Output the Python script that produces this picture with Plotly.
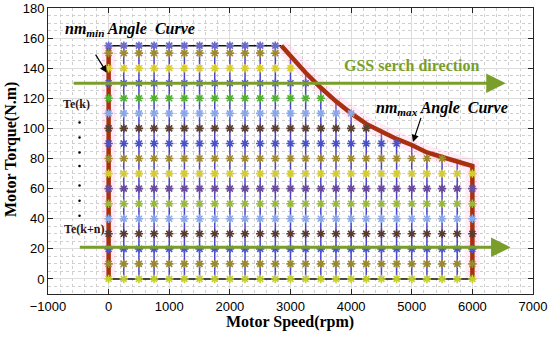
import plotly.graph_objects as go

# ---------------- data ----------------
col_speeds = [0, 250, 500, 750, 1000, 1250, 1500, 1750, 2000, 2250, 2500, 2750,
              3000, 3250, 3500, 3750, 4000, 4250, 4500, 4750, 5000, 5250, 5500, 5750, 6000]
col_tmax = [155, 155, 155, 155, 155, 155, 155, 155, 155, 155, 155, 155,
            148, 137, 127, 118, 110, 103, 98, 93, 89, 84, 81, 78, 75]
row_torques = [0, 10, 20, 30, 40, 50, 60, 70, 80, 90, 100, 110, 120, 130, 140, 150, 155]
row_colors = ["#c4d02c", "#9a8a2c", "#4a58d0", "#5a3a30", "#8aa8e8", "#9ab83a",
              "#6a4a9a", "#d4cc30", "#a08a30", "#4a50c8", "#5a4030", "#8aa8e8",
              "#50b030", "#5a5ad0", "#d8cc30", "#a08a30", "#6a6ad0"]

curve_speeds = [2850, 3000, 3250, 3500, 3750, 4000, 4250, 4500, 4750, 5000, 5250, 5500, 5750, 6000]
curve_torques = [155, 148, 137, 127, 118, 110, 103, 98, 93, 89, 84, 81, 78, 75]

arrow_rows = [130, 21]
arrow_start = [-600, -500]
arrow_end = [6550, 6630]

dots_y = [104, 94, 84, 75, 62, 52, 42]
dots_x = [-480] * len(dots_y)

fig = go.Figure()

# vertical blue column lines
vx, vy = [], []
for s, t in zip(col_speeds, col_tmax):
    vx += [s, s, None]
    vy += [0, t, None]
fig.add_trace(go.Scatter(x=vx, y=vy, mode="lines",
                         line=dict(color="#4a44cc", width=1.5), hoverinfo="skip"))

# pink glow around boundary
bx = [0, 0, None] + curve_speeds + [6000]
by = [0, 155, None] + curve_torques + [0]
fig.add_trace(go.Scatter(x=bx, y=by, mode="lines",
                         line=dict(color="rgba(255,170,215,0.22)", width=14), hoverinfo="skip"))

# black top & bottom lines
fig.add_trace(go.Scatter(x=[0, curve_speeds[0], None, 0, 6000],
                         y=[155, 155, None, 0, 0], mode="lines",
                         line=dict(color="#111111", width=1.5), hoverinfo="skip"))

# red boundary
fig.add_trace(go.Scatter(x=bx, y=by, mode="lines",
                         line=dict(color="#a8300e", width=4.5), hoverinfo="skip"))

# star markers per row
for t, c in zip(row_torques, row_colors):
    xs = [s for s, m in zip(col_speeds, col_tmax) if m >= t]
    fig.add_trace(go.Scatter(x=xs, y=[t] * len(xs), mode="markers",
                             marker=dict(symbol="asterisk-open", size=7, color=c,
                                         line=dict(color=c, width=1.6)),
                             hoverinfo="skip"))

# dots
fig.add_trace(go.Scatter(x=dots_x, y=dots_y, mode="markers",
                         marker=dict(color="black", size=2.5), hoverinfo="skip"))

annotations = []
# green arrows
for yv, xs, xe in zip(arrow_rows, arrow_start, arrow_end):
    annotations.append(dict(x=xe, y=yv, ax=xs, ay=yv, xref="x", yref="y",
                            axref="x", ayref="y", text="", showarrow=True,
                            arrowhead=2, arrowsize=1.3, arrowwidth=3,
                            arrowcolor="#7a9e2a"))
# black pointer arrows
annotations.append(dict(x=-30, y=137, ax=-230, ay=150, xref="x", yref="y",
                        axref="x", ayref="y", text="", showarrow=True,
                        arrowhead=2, arrowsize=1.2, arrowwidth=1.2, arrowcolor="black"))
annotations.append(dict(x=5020, y=91, ax=5160, ay=108, xref="x", yref="y",
                        axref="x", ayref="y", text="", showarrow=True,
                        arrowhead=2, arrowsize=1.2, arrowwidth=1.2, arrowcolor="black"))

serif = "Liberation Serif"
annotations += [
    dict(x=-760, y=166, xref="x", yref="y", xanchor="left", yanchor="middle",
         text="<b><i>nm<sub>min</sub> Angle  Curve</i></b>", showarrow=False,
         font=dict(family=serif, size=16, color="black")),
    dict(x=4380, y=113, xref="x", yref="y", xanchor="left", yanchor="middle",
         text="<b><i>nm<sub>max</sub> Angle  Curve</i></b>", showarrow=False,
         font=dict(family=serif, size=16, color="black")),
    dict(x=5010, y=142, xref="x", yref="y", xanchor="center", yanchor="middle",
         text="<b>GSS serch direction</b>", showarrow=False,
         font=dict(family=serif, size=16, color="#7a9e2a")),
    dict(x=-530, y=116, xref="x", yref="y", xanchor="center", yanchor="middle",
         text="<b>Te(k)</b>", showarrow=False,
         font=dict(family=serif, size=12, color="#2a1414")),
    dict(x=-410, y=33, xref="x", yref="y", xanchor="center", yanchor="middle",
         text="<b>Te(k+n)</b>", showarrow=False,
         font=dict(family=serif, size=12, color="#2a1414")),
]
W, H = 550, 337
ML, MR, MT, MB = 48, 17, 8, 43
plot_w, plot_h = W - ML - MR, H - MT - MB
annotations.append(dict(x=(290 - 48) / plot_w, y=-(322 - 294) / plot_h,
                        xref="paper", yref="paper", showarrow=False,
                        text="<b>Motor Speed(rpm)</b>",
                        xanchor="center", yanchor="middle",
                        font=dict(family=serif, size=16, color="black")))
annotations.append(dict(x=-(48 - 11) / plot_w, y=(294 - 150) / plot_h,
                        xref="paper", yref="paper", showarrow=False, textangle=-90,
                        text="<b>Motor Torque(N.m)</b>",
                        xanchor="center", yanchor="middle",
                        font=dict(family=serif, size=16, color="black")))

axis_common = dict(showline=True, linecolor="#262626", linewidth=1, mirror="ticks",
                   ticks="inside", ticklen=5, tickcolor="#262626", automargin=False,
                   showgrid=True, gridcolor="#dddddd", gridwidth=1, zeroline=False,
                   tickfont=dict(family="Liberation Sans", size=13, color="black"))

fig.update_layout(
    width=W, height=H,
    margin=dict(l=ML, r=MR, t=MT, b=MB, pad=0),
    paper_bgcolor="white", plot_bgcolor="white",
    showlegend=False,
    annotations=annotations,
    xaxis=dict(range=[-1000, 7000], dtick=1000, tick0=0,
               minor=dict(dtick=200, showgrid=True, gridcolor="#cfcfcf",
                          griddash="dot", gridwidth=1),
               **axis_common),
    yaxis=dict(range=[-10, 180], dtick=20, tick0=0,
               minor=dict(dtick=5, showgrid=True, gridcolor="#cfcfcf",
                          griddash="dot", gridwidth=1),
               **axis_common),
)

fig.write_html("out.html", config={"displayModeBar": False},
               post_script="document.body.style.margin='0';document.body.style.padding='0';")
